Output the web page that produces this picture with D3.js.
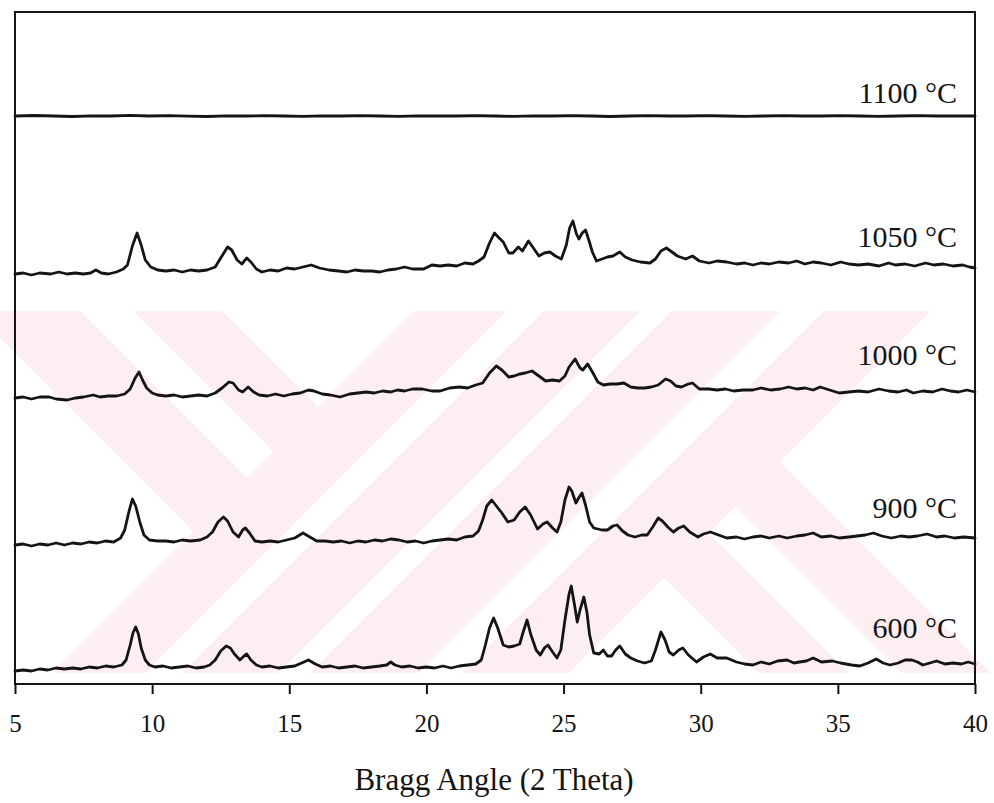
<!DOCTYPE html>
<html>
<head>
<meta charset="utf-8">
<script src="https://cdn.jsdelivr.net/npm/d3@7"></script>
<style>
  html, body { margin: 0; padding: 0; background: #fff; }
  svg { display: block; }
</style>
</head>
<body>
<svg id="chart" width="994" height="803"></svg>
<script>
// ---------------- DATA ----------------
const thetaTicks = [5, 10, 15, 20, 25, 30, 35, 40];
const seriesNames = ["600 °C", "900 °C", "1000 °C", "1050 °C", "1100 °C"];
const seriesOffsets = [100, 1350, 2800, 4050, 5620]; // stacking offsets (counts)

// [2theta, intensity (counts)]
const s600 = [
 [5.0,30],[5.3,40],[5.6,30],[5.9,50],[6.2,40],[6.5,60],[6.8,50],[7.1,60],[7.4,50],[7.7,70],
 [8.0,60],[8.3,80],[8.6,70],[8.9,90],[9.05,140],[9.2,290],[9.3,410],[9.4,470],[9.5,400],[9.6,260],
 [9.75,140],[9.9,90],[10.1,70],[10.4,80],[10.7,60],[11.0,70],[11.3,80],[11.6,60],[11.9,70],[12.1,90],
 [12.3,140],[12.5,230],[12.7,280],[12.85,260],[13.0,200],[13.2,140],[13.35,180],[13.45,200],[13.6,140],[13.8,90],
 [14.0,70],[14.3,80],[14.6,60],[14.9,70],[15.2,80],[15.45,110],[15.7,140],[15.95,100],[16.2,70],[16.5,80],
 [16.8,60],[17.1,70],[17.4,80],[17.7,60],[18.0,70],[18.3,80],[18.55,90],[18.7,120],[18.85,90],[19.1,70],
 [19.4,80],[19.7,60],[20.0,70],[20.3,60],[20.6,80],[20.9,60],[21.2,80],[21.5,90],[21.8,100],[22.0,140],
 [22.15,290],[22.3,460],[22.45,560],[22.6,460],[22.8,290],[23.0,270],[23.2,280],[23.4,300],[23.55,440],[23.67,540],
 [23.8,400],[24.0,240],[24.15,190],[24.3,260],[24.43,290],[24.6,220],[24.76,160],[24.9,240],[25.05,540],[25.2,800],
 [25.28,880],[25.4,690],[25.5,520],[25.6,640],[25.74,770],[25.85,620],[25.95,390],[26.1,210],[26.3,200],[26.45,240],
 [26.6,180],[26.75,180],[26.9,240],[27.05,280],[27.25,200],[27.45,160],[27.7,130],[27.95,110],[28.2,130],[28.35,240],
 [28.55,420],[28.7,340],[28.85,220],[29.0,190],[29.2,240],[29.35,260],[29.55,190],[29.85,120],[30.1,170],[30.35,200],
 [30.6,160],[30.95,160],[31.3,120],[31.6,100],[31.9,90],[32.2,120],[32.5,100],[32.8,130],[33.15,140],[33.4,110],
 [33.6,120],[33.85,130],[34.1,160],[34.4,120],[34.8,130],[35.1,110],[35.5,90],[35.8,80],[36.1,110],[36.4,150],
 [36.65,110],[36.9,90],[37.2,110],[37.45,140],[37.7,140],[37.9,120],[38.1,90],[38.35,110],[38.6,130],[38.9,100],
 [39.2,110],[39.5,100],[39.75,120],[40.0,100]
];
const s900 = [
 [5.0,40],[5.3,50],[5.6,30],[5.9,50],[6.2,40],[6.5,60],[6.8,40],[7.1,60],[7.4,50],[7.7,70],
 [8.0,60],[8.3,80],[8.6,70],[8.85,110],[9.0,190],[9.15,370],[9.28,500],[9.4,430],[9.55,270],[9.7,140],
 [9.9,90],[10.2,80],[10.5,80],[10.8,70],[11.1,90],[11.4,80],[11.75,90],[12.0,120],[12.2,170],[12.4,270],
 [12.6,320],[12.75,280],[12.95,170],[13.15,120],[13.3,190],[13.4,210],[13.55,160],[13.75,80],[14.0,70],[14.3,80],
 [14.6,70],[14.9,90],[15.2,110],[15.5,160],[15.75,120],[16.0,80],[16.3,80],[16.6,70],[16.9,80],[17.2,60],
 [17.5,80],[17.8,70],[18.1,90],[18.4,80],[18.7,100],[19.0,90],[19.3,70],[19.6,80],[19.9,60],[20.2,80],
 [20.5,90],[20.8,100],[21.1,90],[21.4,120],[21.7,130],[21.9,180],[22.05,290],[22.2,430],[22.38,490],[22.55,430],
 [22.75,360],[22.97,270],[23.2,290],[23.4,370],[23.6,420],[23.8,340],[24.05,200],[24.25,250],[24.4,270],[24.6,210],
 [24.76,170],[24.9,270],[25.05,490],[25.2,620],[25.3,580],[25.45,460],[25.55,510],[25.67,560],[25.8,440],[25.95,270],
 [26.1,210],[26.4,190],[26.6,190],[26.8,230],[26.95,240],[27.15,180],[27.35,140],[27.6,120],[27.85,140],[28.05,140],
 [28.25,220],[28.45,310],[28.6,280],[28.8,220],[29.0,170],[29.2,210],[29.38,230],[29.6,170],[29.9,120],[30.1,150],
 [30.35,170],[30.65,140],[30.95,110],[31.3,120],[31.6,100],[31.9,120],[32.2,130],[32.5,110],[32.85,130],[33.15,110],
 [33.5,130],[33.8,140],[34.1,160],[34.4,120],[34.75,130],[35.05,110],[35.4,120],[35.7,130],[36.0,140],[36.3,160],
 [36.6,130],[36.95,110],[37.3,130],[37.6,120],[37.9,130],[38.25,150],[38.6,120],[38.9,130],[39.25,110],[39.6,120],
 [40.0,110]
];
const s1000 = [
 [5.0,60],[5.3,70],[5.6,50],[5.9,70],[6.25,70],[6.5,50],[6.9,40],[7.2,60],[7.5,70],[7.85,90],
 [8.1,70],[8.4,80],[8.7,80],[9.0,100],[9.2,150],[9.38,260],[9.52,320],[9.65,240],[9.8,160],[10.0,110],
 [10.2,90],[10.5,80],[10.8,90],[11.1,70],[11.4,80],[11.7,90],[12.0,80],[12.3,110],[12.55,160],[12.8,220],
 [12.95,210],[13.15,140],[13.3,120],[13.5,170],[13.7,120],[13.9,90],[14.2,80],[14.5,100],[14.8,80],[15.1,100],
 [15.4,110],[15.7,140],[15.9,130],[16.2,100],[16.5,90],[16.85,70],[17.2,100],[17.5,110],[17.8,120],[18.1,110],
 [18.4,130],[18.7,120],[18.95,140],[19.2,130],[19.5,150],[19.85,150],[20.2,130],[20.5,130],[20.85,160],[21.2,170],
 [21.5,160],[21.8,190],[22.05,210],[22.3,310],[22.55,380],[22.75,340],[23.0,270],[23.2,280],[23.4,300],[23.6,310],
 [23.85,330],[24.1,280],[24.35,230],[24.6,240],[24.85,230],[25.05,280],[25.2,370],[25.42,450],[25.6,360],[25.7,340],
 [25.88,400],[26.05,320],[26.25,220],[26.45,190],[26.7,200],[26.95,200],[27.2,210],[27.45,170],[27.7,160],[27.95,160],
 [28.2,170],[28.45,190],[28.72,250],[28.9,230],[29.1,180],[29.3,170],[29.55,200],[29.7,210],[29.95,150],[30.3,150],
 [30.6,140],[30.9,150],[31.2,130],[31.55,140],[31.9,140],[32.2,160],[32.55,140],[32.9,150],[33.2,170],[33.5,150],
 [33.8,160],[34.1,140],[34.35,170],[34.7,140],[35.05,110],[35.4,120],[35.75,130],[36.1,120],[36.5,150],[36.85,130],
 [37.2,120],[37.5,140],[37.75,110],[38.1,130],[38.45,120],[38.8,150],[39.1,130],[39.4,120],[39.7,140],[40.0,120]
];
const s1050 = [
 [5.0,50],[5.3,60],[5.6,40],[5.9,60],[6.3,50],[6.6,70],[6.9,50],[7.2,60],[7.5,50],[7.75,60],
 [7.95,90],[8.15,60],[8.4,50],[8.7,70],[8.95,100],[9.1,140],[9.28,330],[9.45,460],[9.6,340],[9.75,190],
 [9.95,120],[10.2,90],[10.5,80],[10.8,90],[11.1,70],[11.4,90],[11.7,80],[12.0,90],[12.3,120],[12.5,210],
 [12.75,320],[12.9,290],[13.1,190],[13.27,150],[13.45,210],[13.6,170],[13.8,100],[14.0,70],[14.3,90],[14.6,80],
 [14.9,110],[15.2,100],[15.5,120],[15.8,140],[16.1,110],[16.45,90],[16.8,80],[17.1,70],[17.4,90],[17.7,80],
 [18.0,80],[18.3,70],[18.6,90],[18.9,100],[19.2,120],[19.5,100],[19.9,100],[20.2,140],[20.5,130],[20.8,140],
 [21.1,130],[21.4,160],[21.7,150],[21.9,180],[22.1,220],[22.3,360],[22.48,460],[22.65,410],[22.8,370],[23.0,260],
 [23.15,260],[23.35,320],[23.5,280],[23.72,380],[23.9,310],[24.1,230],[24.3,260],[24.5,270],[24.7,230],[24.92,200],
 [25.1,340],[25.22,510],[25.34,580],[25.47,450],[25.56,400],[25.68,460],[25.8,490],[25.92,390],[26.05,270],[26.2,180],
 [26.4,200],[26.6,220],[26.8,230],[27.05,270],[27.25,220],[27.5,190],[27.8,170],[28.15,160],[28.35,200],[28.55,280],
 [28.75,310],[28.95,270],[29.15,230],[29.45,200],[29.7,230],[29.95,180],[30.3,160],[30.6,180],[30.95,170],[31.3,150],
 [31.6,160],[31.9,140],[32.2,160],[32.5,150],[32.85,170],[33.2,160],[33.5,180],[33.8,150],[34.1,170],[34.4,160],
 [34.75,140],[35.1,170],[35.4,150],[35.75,140],[36.1,150],[36.5,130],[36.85,160],[37.1,140],[37.45,150],[37.8,130],
 [38.2,160],[38.5,140],[38.85,150],[39.2,130],[39.55,140],[39.8,120],[40.0,110]
];
const s1100 = [
 [5.0,60],[5.7,65],[6.4,60],[7.1,55],[7.8,62],[8.5,60],[9.2,66],[9.9,60],[10.6,63],[11.3,58],
 [12.0,55],[12.7,62],[13.4,60],[14.1,64],[14.8,60],[15.5,56],[16.2,62],[16.9,60],[17.6,64],[18.3,60],
 [19.0,56],[19.7,62],[20.4,60],[21.1,60],[21.8,63],[22.5,60],[23.2,56],[23.9,62],[24.6,60],[25.3,63],
 [26.0,60],[26.7,55],[27.4,60],[28.1,64],[28.8,60],[29.5,60],[30.2,63],[30.9,60],[31.6,56],[32.3,60],
 [33.0,63],[33.7,60],[34.4,60],[35.1,63],[35.8,60],[36.5,56],[37.2,60],[37.9,63],[38.6,60],[39.3,60],
 [40.0,60]
];
const seriesData = [s600, s900, s1000, s1050, s1100];

// ---------------- LAYOUT ----------------
const W = 994, H = 803;
const plot = { left: 15, right: 975, top: 12, bottom: 684 };
const labelBaselines = [638, 518, 365, 247, 103];
const labelRight = 957;
const serif = "'Liberation Serif', 'Times New Roman', 'DejaVu Serif', serif";
const ink = "#141414";
const pink = "#fdeef1";

const svg = d3.select("#chart");

const x = d3.scaleLinear().domain([5, 40]).range([plot.left, plot.right]);
const y = d3.scaleLinear().domain([0, 6720]).range([plot.bottom, plot.top]);

// ---------- watermark (faint background stripes) ----------
const wm = { top: 311, bottom: 673 };
svg.append("clipPath").attr("id", "wmclip")
  .append("rect").attr("x", 0).attr("y", wm.top).attr("width", W).attr("height", wm.bottom - wm.top);
const wmG = svg.append("g").attr("clip-path", "url(#wmclip)");
const y0 = 290, y1 = 700;
function slashBand(a, b) { // region a < x+y < b
  return [[a - y0, y0], [b - y0, y0], [b - y1, y1], [a - y1, y1]];
}
function backBandUpTo(c1, c2, e) { // c1 < x-y < c2, x+y < e
  return [[c1 + y0, y0], [c2 + y0, y0], [(c2 + e) / 2, (e - c2) / 2], [(c1 + e) / 2, (e - c1) / 2]];
}
function backBandFrom(c1, c2, e) { // c1 < x-y < c2, x+y > e
  return [[(c1 + e) / 2, (e - c1) / 2], [(c2 + e) / 2, (e - c2) / 2], [c2 + y1, y1], [c1 + y1, y1]];
}
const wmPolys = [
  slashBand(725, 818), slashBand(855, 951),
  backBandUpTo(-338, -231, 726), backBandUpTo(-178, -89, 726),
  slashBand(983, 1091), slashBand(1135, 1242),
  backBandFrom(86, 176, 1241), backBandFrom(229, 318, 1241)
];
wmG.selectAll("polygon").data(wmPolys).join("polygon")
  .attr("points", d => d.map(p => p.join(",")).join(" "))
  .attr("fill", pink);

// ---------- traces ----------
const line = d3.line()
  .x(d => x(d[0]))
  .y(d => y(d[1]));

svg.append("g").selectAll("path.trace")
  .data(seriesData.map((s, i) => s.map(p => [p[0], p[1] + seriesOffsets[i]])))
  .join("path")
  .attr("class", "trace")
  .attr("d", line)
  .attr("fill", "none")
  .attr("stroke", ink)
  .attr("stroke-width", 2.8)
  .attr("stroke-linejoin", "round")
  .attr("stroke-linecap", "round");

// ---------- frame ----------
svg.append("rect")
  .attr("x", plot.left).attr("y", plot.top)
  .attr("width", plot.right - plot.left).attr("height", plot.bottom - plot.top)
  .attr("fill", "none").attr("stroke", ink).attr("stroke-width", 2);

// ---------- x axis ----------
const xAxis = d3.axisBottom(x).tickValues(thetaTicks).tickSize(10).tickPadding(20)
  .tickFormat(d3.format("d"));
const gx = svg.append("g").attr("transform", `translate(0,${plot.bottom})`).call(xAxis);
gx.select(".domain").remove();
gx.selectAll(".tick line").attr("stroke", ink).attr("stroke-width", 2);
gx.selectAll(".tick text")
  .attr("fill", ink)
  .style("font-family", serif)
  .style("font-size", "25px");

// axis title
svg.append("text")
  .attr("x", (plot.left + plot.right) / 2 - 1)
  .attr("y", 790)
  .attr("text-anchor", "middle")
  .style("font-family", serif)
  .style("font-size", "31px")
  .attr("fill", ink)
  .text("Bragg Angle (2 Theta)");

// series labels
svg.append("g").selectAll("text.lbl")
  .data(seriesNames)
  .join("text")
  .attr("class", "lbl")
  .attr("x", labelRight)
  .attr("y", (d, i) => labelBaselines[i])
  .attr("text-anchor", "end")
  .style("font-family", serif)
  .style("font-size", "30px")
  .attr("fill", ink)
  .text(d => d);
</script>
</body>
</html>
